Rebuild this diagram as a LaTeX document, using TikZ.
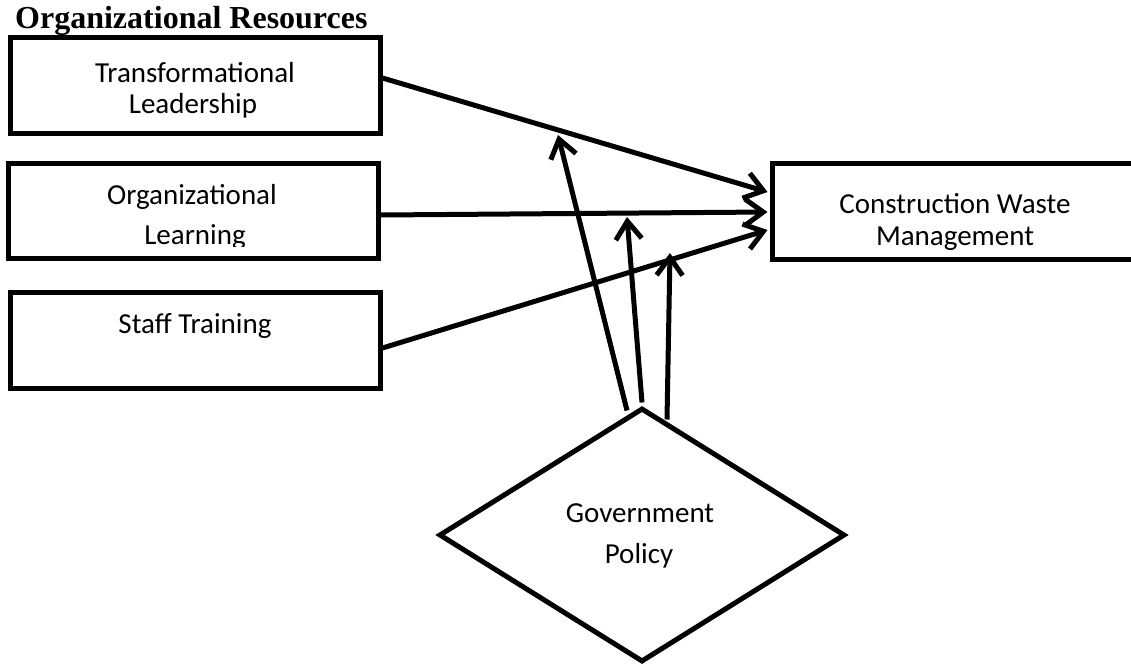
\documentclass[tikz,border=0pt]{standalone}
\usepackage{fontspec}
\setmainfont{Carlito}
\newfontfamily\titlefont{Liberation Serif}
\usetikzlibrary{shapes.geometric,arrows.meta,calc}
\begin{document}
\begin{tikzpicture}[x=1pt,y=-1pt,
  box/.style={draw, line width=5pt, rectangle, inner sep=0pt},
  dia/.style={draw, line width=5pt, diamond, inner sep=0pt},
  txt/.style={font=\fontsize{29}{32}\selectfont, anchor=base, inner sep=0pt},
  conn/.style={line width=5pt, -{Straight Barb[length=18pt,width=26pt]}},
]
\useasboundingbox (0,0) rectangle (1131,664);
\fill[white] (0,0) rectangle (1131,664);
\clip (0,0) rectangle (1131,664);

% title
\node[anchor=base west, inner sep=0pt, font={\titlefont\bfseries\fontsize{32}{36}\selectfont}] (title) at (15,28) {Organizational Resources};

% boxes
\node[box, minimum width=370pt, minimum height=96pt] (b1) at (195,85) {};
\node[box, minimum width=370pt, minimum height=95pt] (b2) at (193,210.5) {};
\node[box, minimum width=370pt, minimum height=96pt] (b3) at (195,340) {};
\node[box, minimum width=374pt, minimum height=96pt] (b4) at (959,211) {};
\node[dia, minimum width=406pt, minimum height=254pt] (gp) at (642,535) {};

% labels
\node[txt] (t1a) at (195,82) {Transformational};
\node[txt] (t1b) at (193,113) {Leadership};
\node[txt] (t2a) at (192,204) {Organizational};
\begin{scope}
\clip (8,163) rectangle (378,246.5);
\node[txt] (t2b) at (195,244) {Learning};
\end{scope}
\node[txt] (t3) at (195,333) {Staff Training};
\node[txt] (t4a) at (955,213) {Construction Waste};
\node[txt] (t4b) at (955,245) {Management};
\node[txt] (t5a) at (640,522) {Government};
\node[txt] (t5b) at (639,563) {Policy};

% connector end points
\coordinate (a1s) at ($(b1.east)+(0,-7)$);
\coordinate (a2s) at ($(b2.east)+(0,4.5)$);
\coordinate (a3s) at ($(b3.east)+(0,8)$);
\coordinate (a1e) at ($(b4.west)+(-2,-19)$);
\coordinate (a2e) at ($(b4.west)+(-2,1)$);
\coordinate (a3e) at ($(b4.west)+(-2,19)$);

\coordinate (m1s) at ($(gp.north)+(-15,5)$);
\coordinate (m2s) at ($(gp.north)+(0,-3)$);
\coordinate (m3s) at ($(gp.north)+(25,14)$);
\coordinate (m1e) at (558,135);
\coordinate (m2e) at (627,217);
\coordinate (m3e) at (670,253);

% connectors
\draw[conn] (a1s) -- (a1e);
\draw[conn] (a2s) -- (a2e);
\draw[conn] (a3s) -- (a3e);
\draw[conn] (m1s) -- (m1e);
\draw[conn] (m2s) -- (m2e);
\draw[conn] (m3s) -- (m3e);
\end{tikzpicture}
\end{document}
